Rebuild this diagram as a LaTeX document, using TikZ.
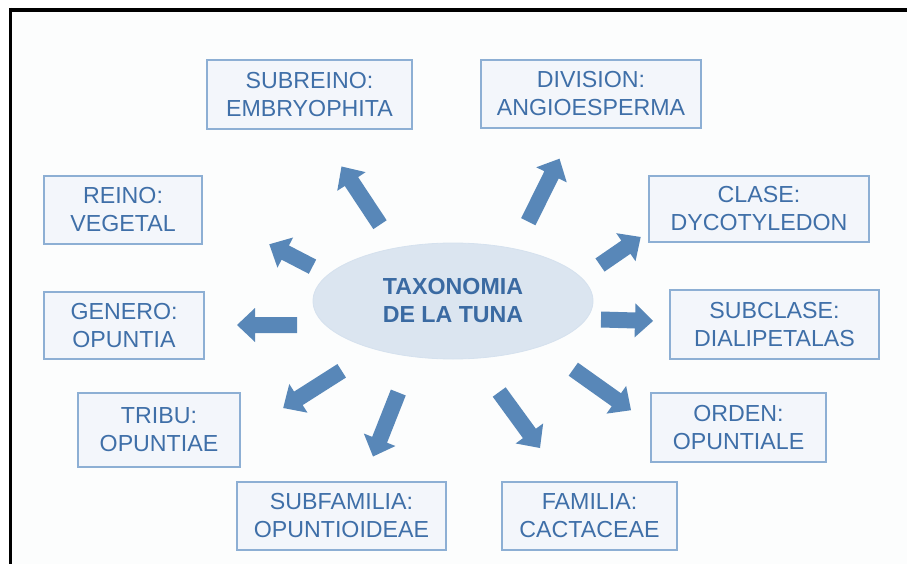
\documentclass[tikz,border=0pt]{standalone}
\usepackage{fontspec}
\setmainfont{Liberation Sans}
\usetikzlibrary{calc,shapes.geometric}

\definecolor{txtblue}{HTML}{3F6FA8}
\definecolor{coretxt}{HTML}{3A6AA2}
\definecolor{boxline}{HTML}{8DAFD4}
\definecolor{boxfill}{HTML}{F3F6FB}
\definecolor{arrowblue}{HTML}{5887B8}
\definecolor{ovalfill}{HTML}{DBE5F0}
\definecolor{pagebg}{HTML}{FCFDFD}

\tikzset{
  rank/.style={draw=boxline, fill=boxfill, line width=1.3pt, text=txtblue,
    align=center, inner sep=0pt, font=\fontsize{23.2}{28}\selectfont},
  core/.style={ellipse, fill=ovalfill, draw=ovalfill!92!boxline, line width=0.8pt,
    text=coretxt, align=center, inner sep=0pt,
    font=\fontsize{23.2}{28}\selectfont\bfseries},
  blockarrow/.style={fill=arrowblue},
  frame/.style={draw=black},
}

% block arrow from a tail coordinate to a tip coordinate
\newcommand{\tunaarrow}[2]{%
  \coordinate (neck) at ($(#2)!18pt!(#1)$);
  \fill[blockarrow]
    ($(#1)!8pt!90:(#2)$) -- ($(neck)!8pt!90:(#2)$) -- ($(neck)!17pt!90:(#2)$)
    -- (#2)
    -- ($(neck)!17pt!-90:(#2)$) -- ($(neck)!8pt!-90:(#2)$) -- ($(#1)!8pt!-90:(#2)$)
    -- cycle;}

\begin{document}
\begin{tikzpicture}[x=1pt, y=-1pt]
  \useasboundingbox (0,0) rectangle (907,564);
  \fill[white] (0,0) rectangle (907,564);
  \fill[pagebg] (12,12) rectangle (907,564);

  % frame lines
  \draw[frame, line width=4pt] (9,10) -- (907,10);
  \draw[frame, line width=3pt] (10.5,8) -- (10.5,564);

  % central oval
  \node[core, minimum width=280pt, minimum height=116pt] (centre) at (453,301)
    {TAXONOMIA\\DE LA TUNA};

  % rank boxes
  \node[rank, minimum width=205pt, minimum height=69pt] (subreino) at (309.5,94.5)
    {SUBREINO:\\EMBRYOPHITA};
  \node[rank, minimum width=220pt, minimum height=68pt] (division) at (591,94)
    {DIVISION:\\ANGIOESPERMA};
  \node[rank, minimum width=158pt, minimum height=68pt] (reino) at (123,210)
    {REINO:\\VEGETAL};
  \node[rank, minimum width=220pt, minimum height=66pt] (clase) at (759,209)
    {CLASE:\\DYCOTYLEDON};
  \node[rank, minimum width=160pt, minimum height=67pt] (genero) at (124,325.5)
    {GENERO:\\OPUNTIA};
  \node[rank, minimum width=209pt, minimum height=69pt] (subclase) at (774.5,324.5)
    {SUBCLASE:\\DIALIPETALAS};
  \node[rank, minimum width=162pt, minimum height=74pt] (tribu) at (159,430)
    {TRIBU:\\OPUNTIAE};
  \node[rank, minimum width=175pt, minimum height=69pt] (orden) at (738.5,427.5)
    {ORDEN:\\OPUNTIALE};
  \node[rank, minimum width=209pt, minimum height=68pt] (subfamilia) at (341.5,516)
    {SUBFAMILIA:\\OPUNTIOIDEAE};
  \node[rank, minimum width=175pt, minimum height=68pt] (familia) at (589.5,516)
    {FAMILIA:\\CACTACEAE};

  % arrow ends
  \coordinate (reino-t) at (312.5,266.7);    \coordinate (reino-h) at (269.3,244.3);
  \coordinate (subreino-t) at (380,224.7);   \coordinate (subreino-h) at (341.5,166.5);
  \coordinate (division-t) at (528.3,221.7); \coordinate (division-h) at (559.5,158.7);
  \coordinate (clase-t) at (600,265);        \coordinate (clase-h) at (640.7,237);
  \coordinate (genero-t) at (297,325);       \coordinate (genero-h) at (237,325);
  \coordinate (subclase-t) at (601,319.5);   \coordinate (subclase-h) at (653,321);
  \coordinate (tribu-t) at (341.7,370.8);    \coordinate (tribu-h) at (283.2,408);
  \coordinate (subfamilia-t) at (398.3,392.5); \coordinate (subfamilia-h) at (373,456.5);
  \coordinate (familia-t) at (499.2,392);    \coordinate (familia-h) at (540,448);
  \coordinate (orden-t) at (573.3,369.2);    \coordinate (orden-h) at (631,410.2);

  \tunaarrow{reino-t}{reino-h}
  \tunaarrow{subreino-t}{subreino-h}
  \tunaarrow{division-t}{division-h}
  \tunaarrow{clase-t}{clase-h}
  \tunaarrow{genero-t}{genero-h}
  \tunaarrow{subclase-t}{subclase-h}
  \tunaarrow{tribu-t}{tribu-h}
  \tunaarrow{subfamilia-t}{subfamilia-h}
  \tunaarrow{familia-t}{familia-h}
  \tunaarrow{orden-t}{orden-h}
\end{tikzpicture}
\end{document}
